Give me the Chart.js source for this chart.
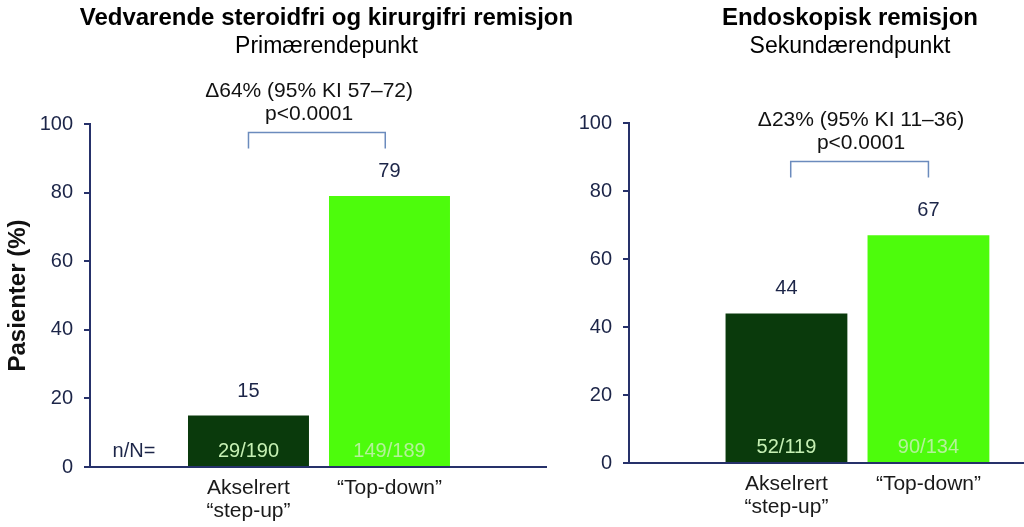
<!DOCTYPE html>
<html>
<head>
<meta charset="utf-8">
<script src="https://cdn.jsdelivr.net/npm/chart.js@4"></script>
<style>
  body { margin: 0; background: #fff; }
  #wrap { position: relative; width: 1024px; height: 527px; overflow: hidden; }
  canvas { position: absolute; top: 0; }
  #left { left: 0; }
  #right { left: 540px; }
</style>
</head>
<body>
<div id="wrap">
  <canvas id="left" width="600" height="527"></canvas>
  <canvas id="right" width="484" height="527"></canvas>
</div>
<script>
const categories = [["Akselrert", "“step-up”"], "“Top-down”"];
const primaryValues = [15, 79];
const primaryCounts = ["29/190", "149/189"];
const secondaryValues = [44, 67];
const secondaryCounts = ["52/119", "90/134"];
const yMin = 0;
const yMax = 100;
const yStep = 20;

const family = "'Liberation Sans', Arial, sans-serif";
const axisColor = "#26316a";
const tickColor = "#1c2548";
const barColors = ["#0a3a0c", "#4dfc0c"];
const countColors = ["#c6f0b4", "#b4f29a"];

Chart.defaults.font.family = family;
Chart.defaults.animation = false;

// titles, bracket, value labels
const extras = {
  id: "extras",
  afterDatasetsDraw(chart, args, opts) {
    const { ctx, scales: { x, y } } = chart;
    const meta = chart.getDatasetMeta(0);
    const zero = y.getPixelForValue(0);
    ctx.save();
    ctx.textAlign = "center";
    ctx.textBaseline = "alphabetic";

    const tx = x.getPixelForValue(opts.titleAt);
    ctx.fillStyle = "#000";
    ctx.font = "bold 24px " + family;
    ctx.fillText(opts.title, tx, 25);
    ctx.font = "23px " + family;
    ctx.fillText(opts.subtitle, tx, 53);

    const bx1 = x.getPixelForValue(opts.bracket[0]);
    const bx2 = x.getPixelForValue(opts.bracket[1]);
    const by = Math.round(y.getPixelForValue(opts.bracketAt)) + 0.5;
    ctx.strokeStyle = "#6b8bbd";
    ctx.lineWidth = 1.5;
    ctx.beginPath();
    ctx.moveTo(bx1, by + 16);
    ctx.lineTo(bx1, by);
    ctx.lineTo(bx2, by);
    ctx.lineTo(bx2, by + 16);
    ctx.stroke();

    const ax = x.getPixelForValue(opts.noteAt);
    ctx.fillStyle = "#111";
    ctx.font = "21px " + family;
    ctx.fillText(opts.note[0], ax, by - 36);
    ctx.fillText(opts.note[1], ax, by - 13);

    ctx.font = "20px " + family;
    meta.data.forEach((bar, i) => {
      ctx.fillStyle = tickColor;
      ctx.fillText(chart.data.datasets[0].data[i].y, bar.x, bar.y - 19);
      ctx.fillStyle = countColors[i];
      ctx.fillText(opts.counts[i], bar.x, zero - 10);
    });
    if (opts.nLabel) {
      ctx.fillStyle = tickColor;
      ctx.fillText(opts.nLabel, x.getPixelForValue(opts.nLabelAt), zero - 10);
    }
    ctx.restore();
  }
};

function makeChart(id, values, cfg) {
  return new Chart(document.getElementById(id), {
    type: "bar",
    data: {
      datasets: [{
        data: values.map((v, i) => ({ x: i + 1, y: v })),
        backgroundColor: barColors,
        borderWidth: 0,
        categoryPercentage: 1,
        barPercentage: 0.858,
      }],
    },
    options: {
      responsive: false,
      layout: { padding: { top: cfg.top, right: cfg.right, left: 0, bottom: 0 } },
      plugins: {
        legend: { display: false },
        tooltip: { enabled: false },
        extras: cfg.extras,
      },
      scales: {
        x: {
          type: "linear",
          offset: false,
          min: cfg.xMin,
          max: cfg.xMax,
          afterBuildTicks: (s) => { s.ticks = [{ value: 1 }, { value: 2 }]; },
          afterFit: (s) => { s.height = cfg.xHeight; },
          grid: { display: false, drawTicks: false },
          border: { display: true, color: axisColor, width: 2 },
          ticks: {
            autoSkip: false,
            maxRotation: 0,
            padding: 9,
            color: "#1a1a1a",
            font: { size: 21, lineHeight: 1.12 },
            callback: (v) => categories[v - 1],
          },
        },
        y: {
          min: yMin,
          max: yMax,
          afterFit: (s) => { s.width = cfg.yWidth; },
          grid: { drawOnChartArea: false, drawTicks: true, tickLength: 6, color: axisColor, lineWidth: 2 },
          border: { display: true, color: axisColor, width: 2 },
          ticks: { stepSize: yStep, padding: 11, color: tickColor, font: { size: 20 } },
          title: {
            display: !!cfg.yTitle,
            text: cfg.yTitle,
            color: "#111",
            font: { size: 24, weight: "bold" },
            padding: { top: 4, bottom: 0 },
          },
        },
      },
    },
    plugins: [extras],
  });
}

makeChart("left", primaryValues, {
  top: 124, right: 54, xHeight: 60, yWidth: 90,
  xMin: -0.124, xMax: 3.11,
  yTitle: "Pasienter (%)",
  extras: {
    title: "Vedvarende steroidfri og kirurgifri remisjon",
    subtitle: "Primærendepunkt",
    titleAt: 1.553,
    note: ["Δ64% (95% KI 57–72)", "p<0.0001"],
    noteAt: 1.43,
    bracket: [1, 1.97],
    bracketAt: 97.7,
    counts: primaryCounts,
    nLabel: "n/N=",
    nLabelAt: 0.188,
  },
});

makeChart("right", secondaryValues, {
  top: 123, right: 0, xHeight: 64, yWidth: 89,
  xMin: -0.109, xMax: 2.673,
  yTitle: "",
  extras: {
    title: "Endoskopisk remisjon",
    subtitle: "Sekundærendpunkt",
    titleAt: 1.447,
    note: ["Δ23% (95% KI 11–36)", "p<0.0001"],
    noteAt: 1.525,
    bracket: [1.03, 2.0],
    bracketAt: 88.9,
    counts: secondaryCounts,
  },
});
</script>
</body>
</html>
